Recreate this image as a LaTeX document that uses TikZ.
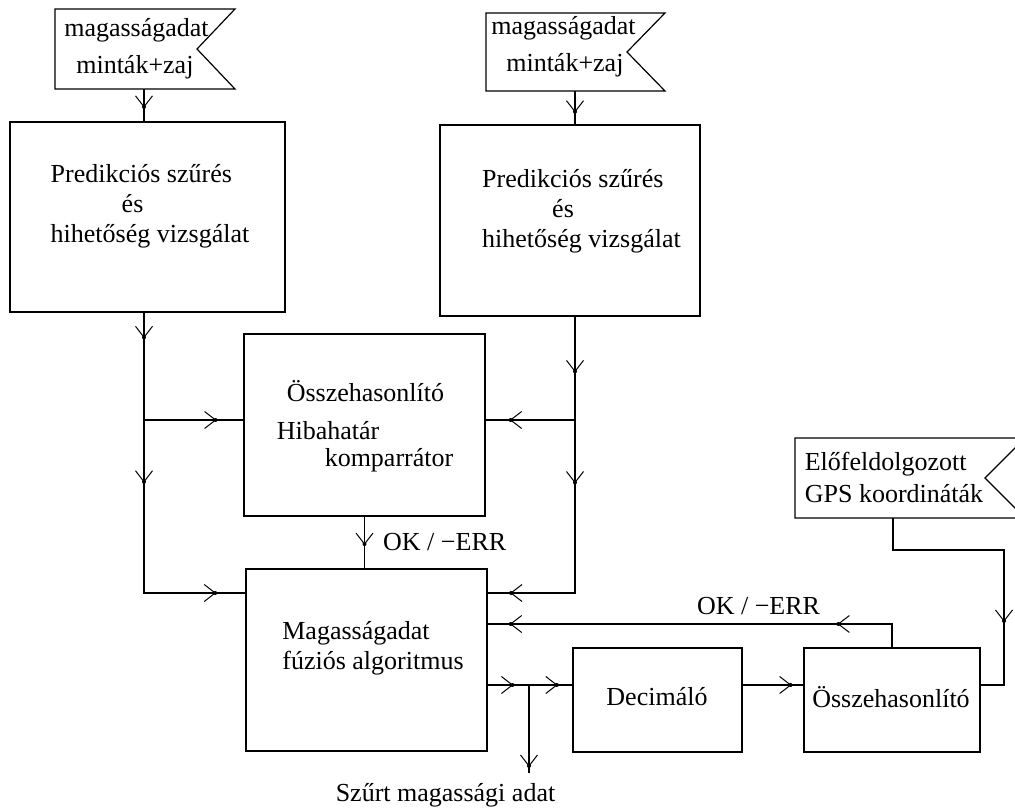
\documentclass[tikz,border=0pt]{standalone}
\usepackage{fontspec}
\setmainfont{Liberation Serif}
\usetikzlibrary{decorations.markings}

\tikzset{
  wire/.style={line width=1.2pt},
  blk/.style={draw, line width=1.2pt, rectangle, inner sep=0pt},
  txt/.style={font=\fontsize{26}{30}\selectfont, align=left, inner sep=0pt},
  tip/.style={postaction={decorate, decoration={markings,
    mark=at position #1 with {\draw[line width=1pt] (-11pt,8.5pt) -- (0pt,0pt) -- (-11pt,-8.5pt);
      \fill (0pt,0pt) circle (2pt);}}}},
}

\begin{document}
\begin{tikzpicture}[x=1pt, y=-1pt]
  \fill[white] (0,0) rectangle (1015,809);
  \useasboundingbox (0,0) rectangle (1015,809);
  \clip (0,0) rectangle (1015,809);
  % Input flags
  \draw[wire] (55,9) -- (235,9) -- (197,49) -- (235,89) -- (55,89) -- cycle;
  \node[txt] (src1) at (136.5,49) {magasságadat\\[7pt]\hspace*{12pt}minták+zaj};
  \coordinate (src1b) at (144,89);
  \draw[wire] (486,13) -- (665,13) -- (627,52) -- (665,91) -- (486,91) -- cycle;
  \node[txt] (src2) at (563.5,47) {magasságadat\\[7pt]\hspace*{15pt}minták+zaj};
  \coordinate (src2b) at (575,91);
  \draw[wire] (795,438) -- (1025,438) -- (985,478) -- (1025,518) -- (795,518) -- cycle;
  \node[txt] (gpssrc) at (894,477.5) {Előfeldolgozott\\[2pt]GPS koordináták};
  \coordinate (gpsb) at (893,518);
  % Blocks
  \node[blk, minimum width=275pt, minimum height=190pt] (pred1) at (147.5,217) {};
  \node[txt] (pred1txt) at (150,206.5) {Predikciós szűrés\\\hspace*{71pt}és\\hihetőség vizsgálat};
  \node[blk, minimum width=260pt, minimum height=191pt] (pred2) at (570,220.5) {};
  \node[txt] (pred2txt) at (581.5,211.5) {Predikciós szűrés\\\hspace*{70pt}és\\hihetőség vizsgálat};
  \node[blk, minimum width=241pt, minimum height=182pt] (comp) at (364.5,425) {};
  \node[txt] (comptxt) at (365,426) {\hspace*{10pt}Összehasonlító\\[8pt]Hibahatár\\[-3pt]\hspace*{48pt}komparrátor};
  \node[blk, minimum width=241pt, minimum height=182pt] (fusion) at (366.5,660) {};
  \node[txt] (fusiontxt) at (373,648) {Magasságadat\\fúziós algoritmus};
  \node[blk, minimum width=169pt, minimum height=104pt] (decim) at (657.5,700) {};
  \node[txt] (decimtxt) at (657,697) {Decimáló};
  \node[blk, minimum width=176pt, minimum height=104pt] (cmpgps) at (892,700) {};
  \node[txt] (cmpgpstxt) at (891,697) {Összehasonlító};
  % Junctions
  \coordinate (jl) at (144,420);
  \coordinate (jr) at (575,420);
  \coordinate (jo) at (529,685);
  \coordinate (out) at (529,773);
  \coordinate (gpsk) at (1004,550);
  % Connectors
  \draw[wire, tip=0.55] (src1b) -- (src1b |- pred1.north);
  \draw[wire, tip=0.62] (src2b) -- (src2b |- pred2.north);
  \draw[wire, tip=0.23] (src1b |- pred1.south) -- (jl);
  \draw[wire, tip=0.225, tip=0.89] (jl) |- ([yshift=67pt]fusion.west);
  \draw[wire, tip=0.72] (jl) -- (comp.west |- jl);
  \draw[wire, tip=0.53] (src2b |- pred2.south) -- (jr);
  \draw[wire, tip=0.24, tip=0.91] (jr) |- ([yshift=67pt]fusion.east);
  \draw[wire, tip=0.72] (jr) -- (comp.east |- jr);
  \draw[wire, tip=0.53] (comp.south) -- (comp.south |- fusion.north);
  \node[txt, anchor=west] (okerr1) at (383,542) {OK / −ERR};
  \draw[wire, tip=0.6] (fusion.east |- jo) -- (jo);
  \draw[wire, tip=0.64] (jo) -- (decim.west |- jo);
  \draw[wire, tip=0.92] (jo) -- (out);
  \node[txt] (outtxt) at (445.5,795) {Szűrt magassági adat};
  \draw[wire, tip=0.79] (decim.east |- jo) -- (cmpgps.west |- jo);
  \draw[wire, tip=0.18, tip=0.946] (cmpgps.north) |- ([yshift=36pt]fusion.east);
  \node[txt] (okerr2) at (758.5,606) {OK / −ERR};
  \draw[wire, tip=0.71] (gpsb) |- (gpsk) |- (cmpgps.east |- jo);
\end{tikzpicture}
\end{document}
